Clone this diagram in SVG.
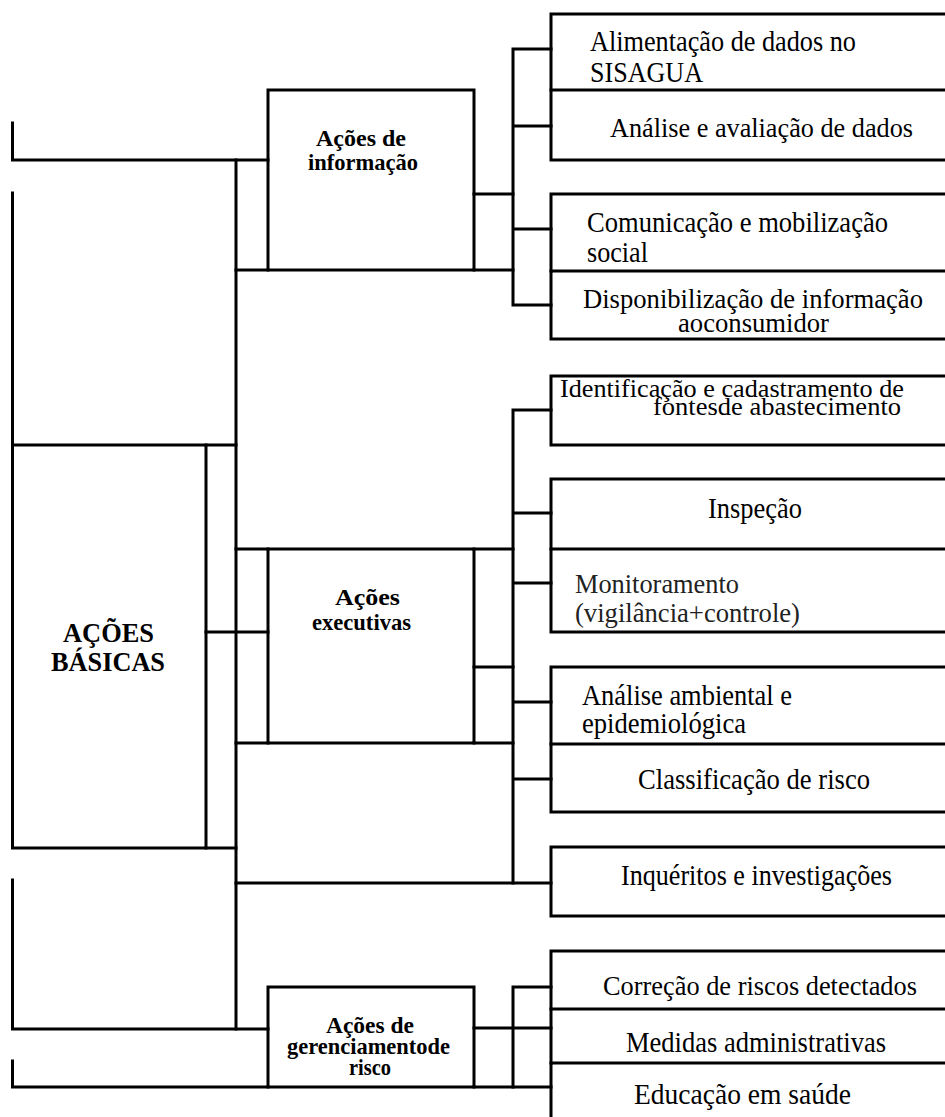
<svg xmlns="http://www.w3.org/2000/svg" width="945" height="1117" viewBox="0 0 945 1117">
<style>
.ln{fill:none;stroke:#000;stroke-width:3;stroke-linecap:square;stroke-linejoin:miter}
text{font-family:"Liberation Serif","Times New Roman",Times,serif}
.t{font-size:30px;fill:#000}
.t2{font-size:27px;fill:#000}
.tm{font-size:27px;fill:#222}
.ts{font-size:25px;fill:#000}
.b{font-size:24px;font-weight:bold;fill:#000}
.bb{font-size:28px;font-weight:bold;fill:#000}
</style>
<rect width="945" height="1117" fill="#fff"/>
<g id="connectors">
<path class="ln" d="M12.5,123 V160 H268"/>
<path class="ln" d="M12.5,193 V445"/>
<path class="ln" d="M206,445 H236 M206,848 H236 M206,632 H268"/>
<path class="ln" d="M236,160 V1029"/>
<path class="ln" d="M236,270 H268 M474,270 H513 M474,194 H513"/>
<path class="ln" d="M513,49 V305 M513,49 H551 M513,126 H551 M513,229 H551 M513,305 H551"/>
<path class="ln" d="M236,549 H268 M474,549 H513 M236,743 H268 M474,743 H513 M474,667 H513"/>
<path class="ln" d="M513,410 V883 M513,410 H551 M513,513 H551 M513,583 H551 M513,702 H551 M513,779 H551"/>
<path class="ln" d="M236,883 H551"/>
<path class="ln" d="M12.5,880 V1029 H268"/>
<path class="ln" d="M12.5,1061 V1087 H268 M474,1087 H551"/>
<path class="ln" d="M513,987 V1087 M513,987 H551 M474,1028 H551"/>
</g>
<g id="n-basicas">
<path class="ln" d="M12.5,445 H206 V848 H12.5 Z"/>
<text class="bb" x="63" y="642" textLength="91" lengthAdjust="spacingAndGlyphs">AÇÕES</text>
<text class="bb" x="51" y="671" textLength="114" lengthAdjust="spacingAndGlyphs">BÁSICAS</text>
</g>
<g id="n-informacao">
<path class="ln" d="M268,90 H474 V270 H268 Z"/>
<text class="b" x="316" y="146" textLength="90" lengthAdjust="spacingAndGlyphs">Ações de</text>
<text class="b" x="308" y="170" textLength="110" lengthAdjust="spacingAndGlyphs">informação</text>
</g>
<g id="n-executivas">
<path class="ln" d="M268,549 H474 V743 H268 Z"/>
<text class="b" x="335" y="605" textLength="65" lengthAdjust="spacingAndGlyphs">Ações</text>
<text class="b" x="312" y="630" textLength="99" lengthAdjust="spacingAndGlyphs">executivas</text>
</g>
<g id="n-gerenciamento">
<path class="ln" d="M268,987 H474 V1087 H268 Z"/>
<text class="b" x="326" y="1033" textLength="88" lengthAdjust="spacingAndGlyphs">Ações de</text>
<text class="b" x="287" y="1054" textLength="163" lengthAdjust="spacingAndGlyphs">gerenciamentode</text>
<text class="b" x="349" y="1075" textLength="42" lengthAdjust="spacingAndGlyphs">risco</text>
</g>
<g id="n-alimentacao">
<path class="ln" d="M945,14 H551 V90"/>
<text class="t" x="590" y="51" textLength="266" lengthAdjust="spacingAndGlyphs">Alimentação de dados no</text>
<text class="t" x="590" y="82" textLength="113" lengthAdjust="spacingAndGlyphs">SISAGUA</text>
</g>
<g id="n-analise-dados">
<path class="ln" d="M945,90 H551 V160 H945"/>
<text class="t2" x="610" y="137" textLength="303" lengthAdjust="spacingAndGlyphs">Análise e avaliação de dados</text>
</g>
<g id="n-comunicacao">
<path class="ln" d="M945,194 H551 V271"/>
<text class="t" x="587" y="232" textLength="301" lengthAdjust="spacingAndGlyphs">Comunicação e mobilização</text>
<text class="t" x="587" y="262" textLength="61" lengthAdjust="spacingAndGlyphs">social</text>
</g>
<g id="n-disponibilizacao">
<path class="ln" d="M945,271 H551 V339 H945"/>
<text class="t2" x="583" y="308" textLength="340" lengthAdjust="spacingAndGlyphs">Disponibilização de informação</text>
<text class="t2" x="678" y="332" textLength="151" lengthAdjust="spacingAndGlyphs">aoconsumidor</text>
</g>
<g id="n-identificacao">
<path class="ln" d="M945,376 H551 V445 H945"/>
<text class="ts" x="560" y="397" textLength="344" lengthAdjust="spacingAndGlyphs">Identificação e cadastramento de</text>
<text class="ts" x="653" y="415" textLength="248" lengthAdjust="spacingAndGlyphs">fontesde abastecimento</text>
</g>
<g id="n-inspecao">
<path class="ln" d="M945,479 H551 V549"/>
<text class="t" x="708" y="518" textLength="94" lengthAdjust="spacingAndGlyphs">Inspeção</text>
</g>
<g id="n-monitoramento">
<path class="ln" d="M945,549 H551 V632 H945"/>
<text class="tm" x="575" y="593" textLength="164" lengthAdjust="spacingAndGlyphs">Monitoramento</text>
<text class="tm" x="575" y="622" textLength="225" lengthAdjust="spacingAndGlyphs">(vigilância+controle)</text>
</g>
<g id="n-analise-ambiental">
<path class="ln" d="M945,667 H551 V744"/>
<text class="t" x="582" y="705" textLength="210" lengthAdjust="spacingAndGlyphs">Análise ambiental e</text>
<text class="t" x="582" y="733" textLength="164" lengthAdjust="spacingAndGlyphs">epidemiológica</text>
</g>
<g id="n-classificacao">
<path class="ln" d="M945,744 H551 V812 H945"/>
<text class="t" x="638" y="789" textLength="232" lengthAdjust="spacingAndGlyphs">Classificação de risco</text>
</g>
<g id="n-inqueritos">
<path class="ln" d="M945,847 H551 V916 H945"/>
<text class="t" x="621" y="885" textLength="271" lengthAdjust="spacingAndGlyphs">Inquéritos e investigações</text>
</g>
<g id="n-correcao">
<path class="ln" d="M945,951 H551 V1009"/>
<text class="t2" x="603" y="995" textLength="314" lengthAdjust="spacingAndGlyphs">Correção de riscos detectados</text>
</g>
<g id="n-medidas">
<path class="ln" d="M945,1009 H551 V1063"/>
<text class="t" x="626" y="1052" textLength="260" lengthAdjust="spacingAndGlyphs">Medidas administrativas</text>
</g>
<g id="n-educacao">
<path class="ln" d="M945,1063 H551 V1117"/>
<text class="t" x="634" y="1104" textLength="217" lengthAdjust="spacingAndGlyphs">Educação em saúde</text>
</g>
</svg>
